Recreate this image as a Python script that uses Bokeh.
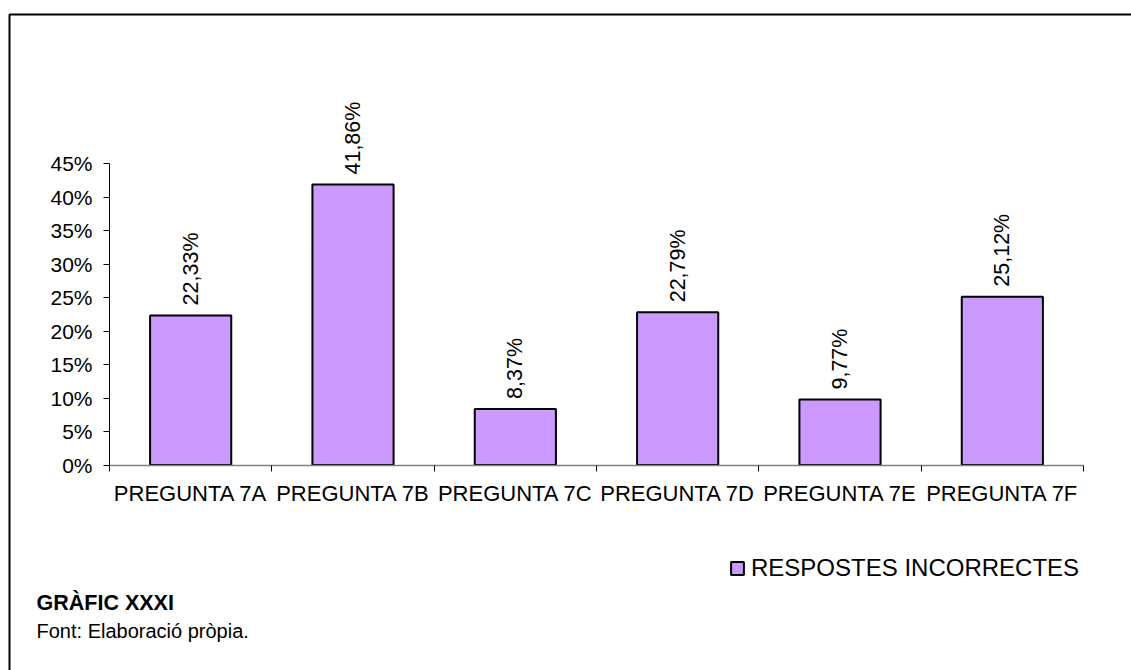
from bokeh.plotting import figure
from bokeh.models import (ColumnDataSource, Range1d, FixedTicker, NumeralTickFormatter,
                          Legend, LegendItem, Label, BoxAnnotation)
from bokeh.core.properties import value
from bokeh.embed import file_html
from bokeh.resources import INLINE

categories = ["PREGUNTA 7A", "PREGUNTA 7B", "PREGUNTA 7C", "PREGUNTA 7D", "PREGUNTA 7E", "PREGUNTA 7F"]
incorrectes = [0.2233, 0.4186, 0.0837, 0.2279, 0.0977, 0.2512]
series_name = "RESPOSTES INCORRECTES"
y_ticks = [0, 0.05, 0.10, 0.15, 0.20, 0.25, 0.30, 0.35, 0.40, 0.45]
caption_title = "GRÀFIC XXXI"
caption_source = "Font: Elaboració pròpia."

FONT = "Liberation Sans"
BAR_COLOR = "#CC99FF"

W, H = 1131, 670
n = len(categories)
# pixel geometry of the plotting area (page pixels)
X0, X1 = 109, 1083          # x axis from 0 to n
Y0, YTOP = 464.5, 163.0     # y = 0 and y = 0.45
PX_X = (X1 - X0) / n
PX_Y = (Y0 - YTOP) / 0.45

x_range = Range1d(-X0 / PX_X, (W - X0) / PX_X)
y_range = Range1d(-(H - Y0) / PX_Y, Y0 / PX_Y)

xs = [i + 0.5 for i in range(n)]
labels = [("%.2f%%" % (v * 100)).replace(".", ",") for v in incorrectes]
src = ColumnDataSource(dict(x=xs, top=incorrectes, lab=labels))

p = figure(width=W, height=H, output_backend="svg", toolbar_location=None,
           x_range=x_range, y_range=y_range,
           min_border=0, min_border_left=0, min_border_right=0,
           min_border_top=0, min_border_bottom=0)
p.outline_line_color = None
p.xgrid.grid_line_color = None
p.ygrid.grid_line_color = None
p.background_fill_color = "white"
p.border_fill_color = "white"

# outer frame of the chart (left and top edges visible)
p.add_layout(BoxAnnotation(left=(9 - X0) / PX_X, top=(Y0 - 14) / PX_Y,
                           right=x_range.end + 1, bottom=y_range.start - 1,
                           fill_alpha=0, line_color="black", line_width=2, line_alpha=1))

bars = p.vbar(x="x", top="top", width=0.5, bottom=0, source=src,
              fill_color=BAR_COLOR, line_color="black", line_width=2)

p.text(x="x", y="top", text="lab", source=src, angle=1.5708,
       text_align="left", text_baseline="middle", x_offset=0, y_offset=-10,
       text_font=value(FONT), text_font_size="21.5px", text_color="black")

# y axis
ya = p.yaxis[0]
ya.fixed_location = 0
ya.ticker = FixedTicker(ticks=y_ticks)
ya.formatter = NumeralTickFormatter(format="0%")
ya.bounds = (0, 0.45)
ya.axis_line_color = "black"
ya.axis_line_width = 1
ya.major_tick_in = 0
ya.major_tick_out = 6
ya.minor_tick_line_color = None
ya.major_label_text_font = FONT
ya.major_label_text_font_size = "21px"
ya.major_label_text_color = "black"
ya.major_label_standoff = 11

# x axis
xa = p.xaxis[0]
xa.fixed_location = 0
xa.bounds = (0, n)
xa.ticker = FixedTicker(ticks=xs, minor_ticks=list(range(n + 1)))
xa.major_label_overrides = {x: c for x, c in zip(xs, categories)}
xa.axis_line_color = "#808080"
xa.axis_line_width = 1.5
xa.major_tick_in = 0
xa.major_tick_out = 0
xa.minor_tick_in = 0
xa.minor_tick_out = 6
xa.minor_tick_line_color = "black"
xa.major_label_text_font = FONT
xa.major_label_text_font_size = "22px"
xa.major_label_text_color = "black"
xa.major_label_standoff = 10

legend = Legend(items=[LegendItem(label=series_name, renderers=[bars])],
                location=(729, 88), padding=0, margin=0, border_line_color=None,
                background_fill_alpha=0, glyph_width=16, glyph_height=16,
                label_standoff=6, label_text_font=FONT, label_text_font_size="24px",
                label_text_color="black")
p.add_layout(legend, "center")

p.add_layout(Label(x=36, y=H - 602.5, x_units="screen", y_units="screen", text=caption_title,
                   text_font=FONT, text_font_size="21.5px", text_font_style="bold",
                   text_baseline="middle", text_color="black"))
p.add_layout(Label(x=36, y=H - 630, x_units="screen", y_units="screen", text=caption_source,
                   text_font=FONT, text_font_size="20px",
                   text_baseline="middle", text_color="black"))

open("out.html", "w").write(file_html(p, INLINE))
